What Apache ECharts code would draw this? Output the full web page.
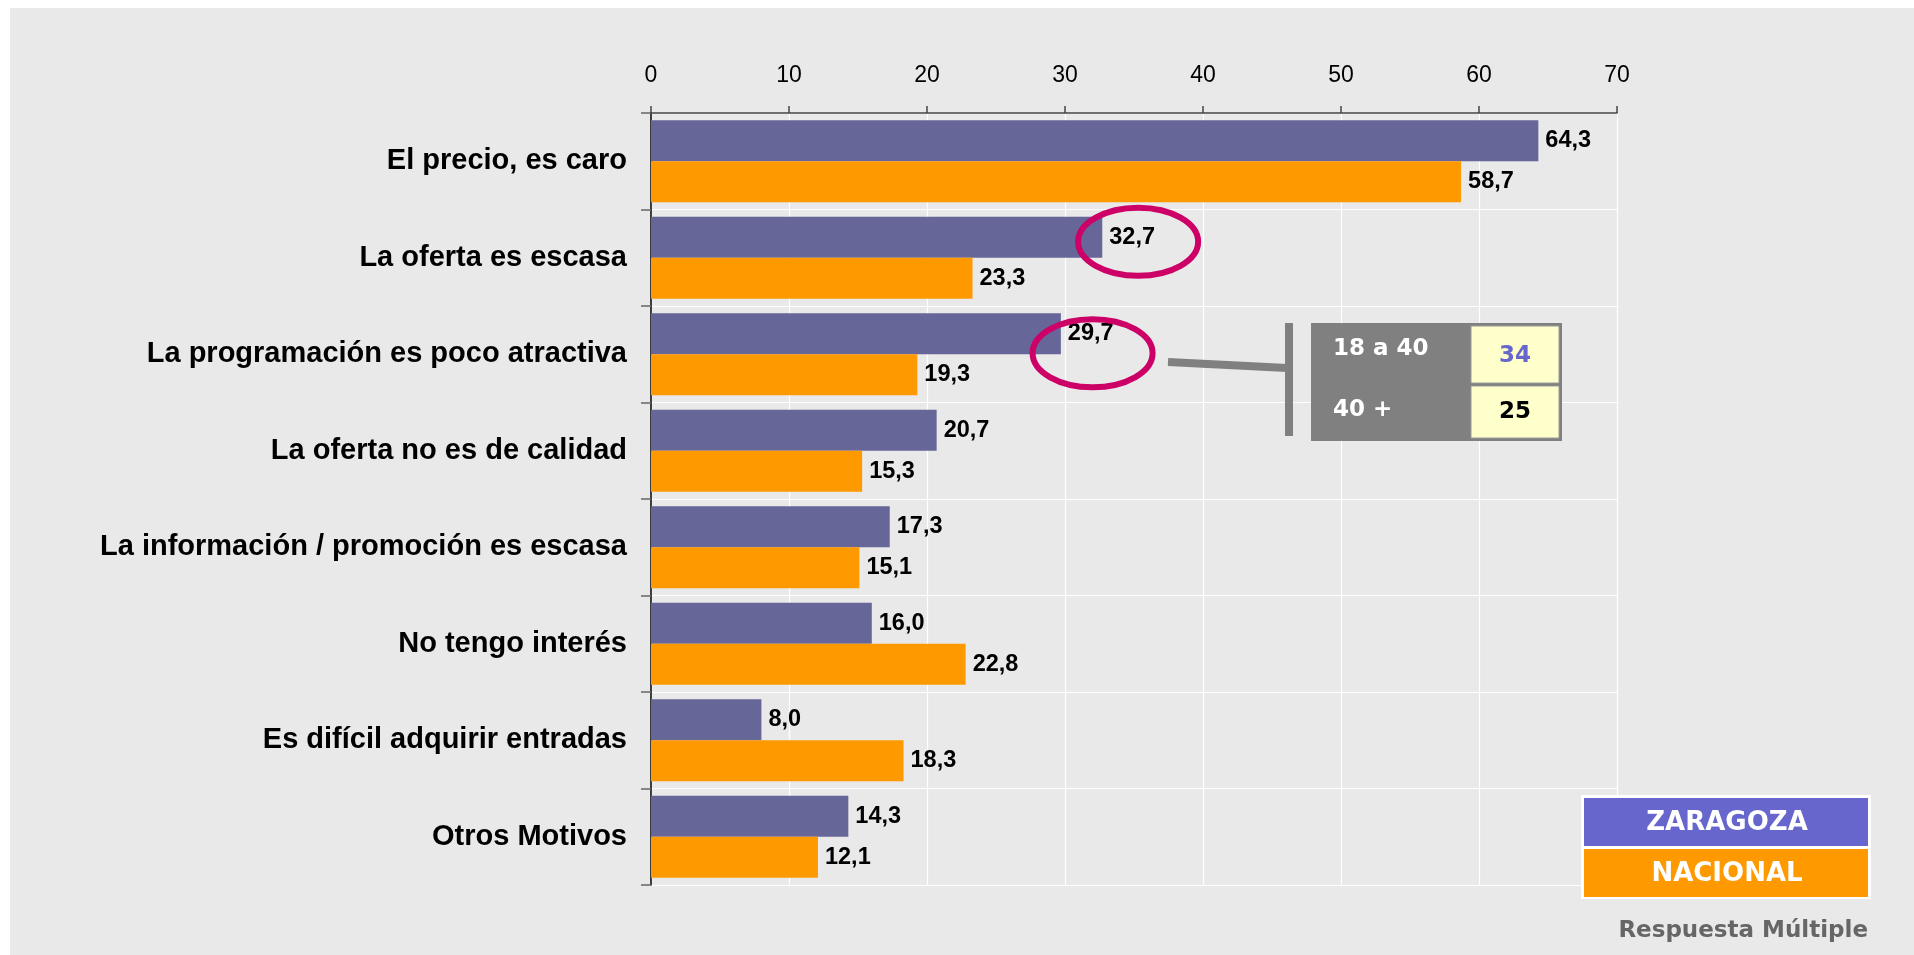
<!DOCTYPE html>
<html>
<head>
<meta charset="utf-8">
<title>Motivos</title>
<script src="https://cdn.jsdelivr.net/npm/echarts@6/dist/echarts.min.js"></script>
<style>
  html, body { margin: 0; padding: 0; background: #ffffff; }
  #bg { position: absolute; left: 10px; top: 8px; width: 1904px; height: 947px; background: #e9e9e9; }
  #main { position: absolute; left: 0; top: 0; width: 1914px; height: 955px; }
</style>
</head>
<body>
<div id="bg"></div>
<div id="main"></div>
<script>
// datos
var categories = [
  "El precio, es caro",
  "La oferta es escasa",
  "La programación es poco atractiva",
  "La oferta no es de calidad",
  "La información / promoción es escasa",
  "No tengo interés",
  "Es difícil adquirir entradas",
  "Otros Motivos"
];
var zaragoza = [64.3, 32.7, 29.7, 20.7, 17.3, 16.0, 8.0, 14.3];
var nacional = [58.7, 23.3, 19.3, 15.3, 15.1, 22.8, 18.3, 12.1];
var xTicks = [0, 10, 20, 30, 40, 50, 60, 70];
// detalle por edad (programación poco atractiva)
var edadLabels = ["18 a 40", "40 +"];
var edadValues = [34, 25];

var PURPLE = "#666699";
var ORANGE = "#ff9900";
var fmt = function (p) { return p.value.toFixed(1).replace(".", ","); };

var chart = echarts.init(document.getElementById("main"));

var option = {
  backgroundColor: "transparent",
  animation: false,
  textStyle: { fontFamily: "Liberation Sans, Arial, sans-serif" },
  grid: { left: 651, top: 113, right: 297, bottom: 70, containLabel: false },
  xAxis: {
    type: "value",
    position: "top",
    min: xTicks[0],
    max: xTicks[xTicks.length - 1],
    interval: 10,
    axisLine: { show: true, lineStyle: { color: "#444", width: 1.5 } },
    axisTick: { show: true, length: 7, lineStyle: { color: "#444", width: 1.5 } },
    axisLabel: { color: "#000", fontSize: 23, margin: 26 },
    splitLine: { show: true, lineStyle: { color: "#ffffff", width: 1.2 } }
  },
  yAxis: {
    type: "category",
    inverse: true,
    data: categories,
    axisLine: { show: true, lineStyle: { color: "#000", width: 1.5 } },
    axisTick: { show: true, length: 10, lineStyle: { color: "#666", width: 1.5 } },
    axisLabel: { color: "#000", fontSize: 29, fontWeight: "bold", margin: 24 },
    splitLine: { show: true, lineStyle: { color: "#ffffff", width: 1.2 } }
  },
  series: [
    {
      name: "ZARAGOZA",
      type: "bar",
      data: zaragoza,
      barGap: "0%",
      barCategoryGap: "15%",
      itemStyle: { color: PURPLE },
      label: { show: true, position: "right", distance: 7, color: "#000", fontSize: 23.5, fontWeight: "bold", formatter: fmt }
    },
    {
      name: "NACIONAL",
      type: "bar",
      data: nacional,
      barGap: "0%",
      barCategoryGap: "15%",
      itemStyle: { color: ORANGE },
      label: { show: true, position: "right", distance: 7, color: "#000", fontSize: 23.5, fontWeight: "bold", formatter: fmt }
    }
  ]
};
chart.setOption(option);

// anotaciones: elipses, conector, tabla por edad y leyenda
function addGraphics() {
  var c1 = chart.convertToPixel({ xAxisIndex: 0, yAxisIndex: 0 }, [35.3, 1]);
  var c2 = chart.convertToPixel({ xAxisIndex: 0, yAxisIndex: 0 }, [32.0, 2]);
  var vfont = "bold 23px 'DejaVu Sans', Verdana, sans-serif";
  var lfont = "bold 26px 'DejaVu Sans', Verdana, sans-serif";
  var elements = [
    { type: "ellipse", shape: { cx: c1[0], cy: c1[1] - 16, rx: 60, ry: 34 },
      style: { fill: "none", stroke: "#cc0066", lineWidth: 6 }, z: 100 },
    { type: "ellipse", shape: { cx: c2[0], cy: c2[1] - 1, rx: 60, ry: 34 },
      style: { fill: "none", stroke: "#cc0066", lineWidth: 6 }, z: 100 },
    { type: "line", shape: { x1: 1168, y1: 362, x2: 1287, y2: 368 },
      style: { stroke: "#808080", lineWidth: 8 }, z: 100 },
    { type: "rect", shape: { x: 1285, y: 323, width: 8, height: 113 },
      style: { fill: "#808080" }, z: 100 },
    { type: "rect", shape: { x: 1311, y: 323, width: 251, height: 118 },
      style: { fill: "#808080" }, z: 100 },
    { type: "rect", shape: { x: 1471, y: 326, width: 88, height: 57 },
      style: { fill: "#ffffcc", stroke: "#999", lineWidth: 1 }, z: 101 },
    { type: "rect", shape: { x: 1471, y: 386, width: 88, height: 52 },
      style: { fill: "#ffffcc", stroke: "#999", lineWidth: 1 }, z: 101 },
    { type: "text", x: 1333, y: 349, style: { text: edadLabels[0], font: vfont, fill: "#fff", verticalAlign: "middle" }, z: 102 },
    { type: "text", x: 1333, y: 410, style: { text: edadLabels[1], font: vfont, fill: "#fff", verticalAlign: "middle" }, z: 102 },
    { type: "text", x: 1515, y: 356, style: { text: String(edadValues[0]), font: vfont, fill: "#6666cc", align: "center", verticalAlign: "middle" }, z: 102 },
    { type: "text", x: 1515, y: 412, style: { text: String(edadValues[1]), font: vfont, fill: "#000", align: "center", verticalAlign: "middle" }, z: 102 },
    // leyenda
    { type: "rect", shape: { x: 1581, y: 795, width: 290, height: 104 }, style: { fill: "#ffffff" }, z: 100 },
    { type: "rect", shape: { x: 1584, y: 798, width: 284, height: 48 }, style: { fill: "#6666cc" }, z: 101 },
    { type: "rect", shape: { x: 1584, y: 849, width: 284, height: 48 }, style: { fill: ORANGE }, z: 101 },
    { type: "text", x: 1727, y: 823, style: { text: option.series[0].name, font: lfont, fill: "#fff", align: "center", verticalAlign: "middle" }, z: 102 },
    { type: "text", x: 1727, y: 874, style: { text: option.series[1].name, font: lfont, fill: "#fff", align: "center", verticalAlign: "middle" }, z: 102 },
    { type: "text", x: 1868, y: 931, style: { text: "Respuesta Múltiple", font: "bold 23px 'DejaVu Sans', Verdana, sans-serif", fill: "#666666", align: "right", verticalAlign: "middle" }, z: 102 }
  ];
  chart.setOption({ graphic: { elements: elements } });
}
addGraphics();
</script>
</body>
</html>
